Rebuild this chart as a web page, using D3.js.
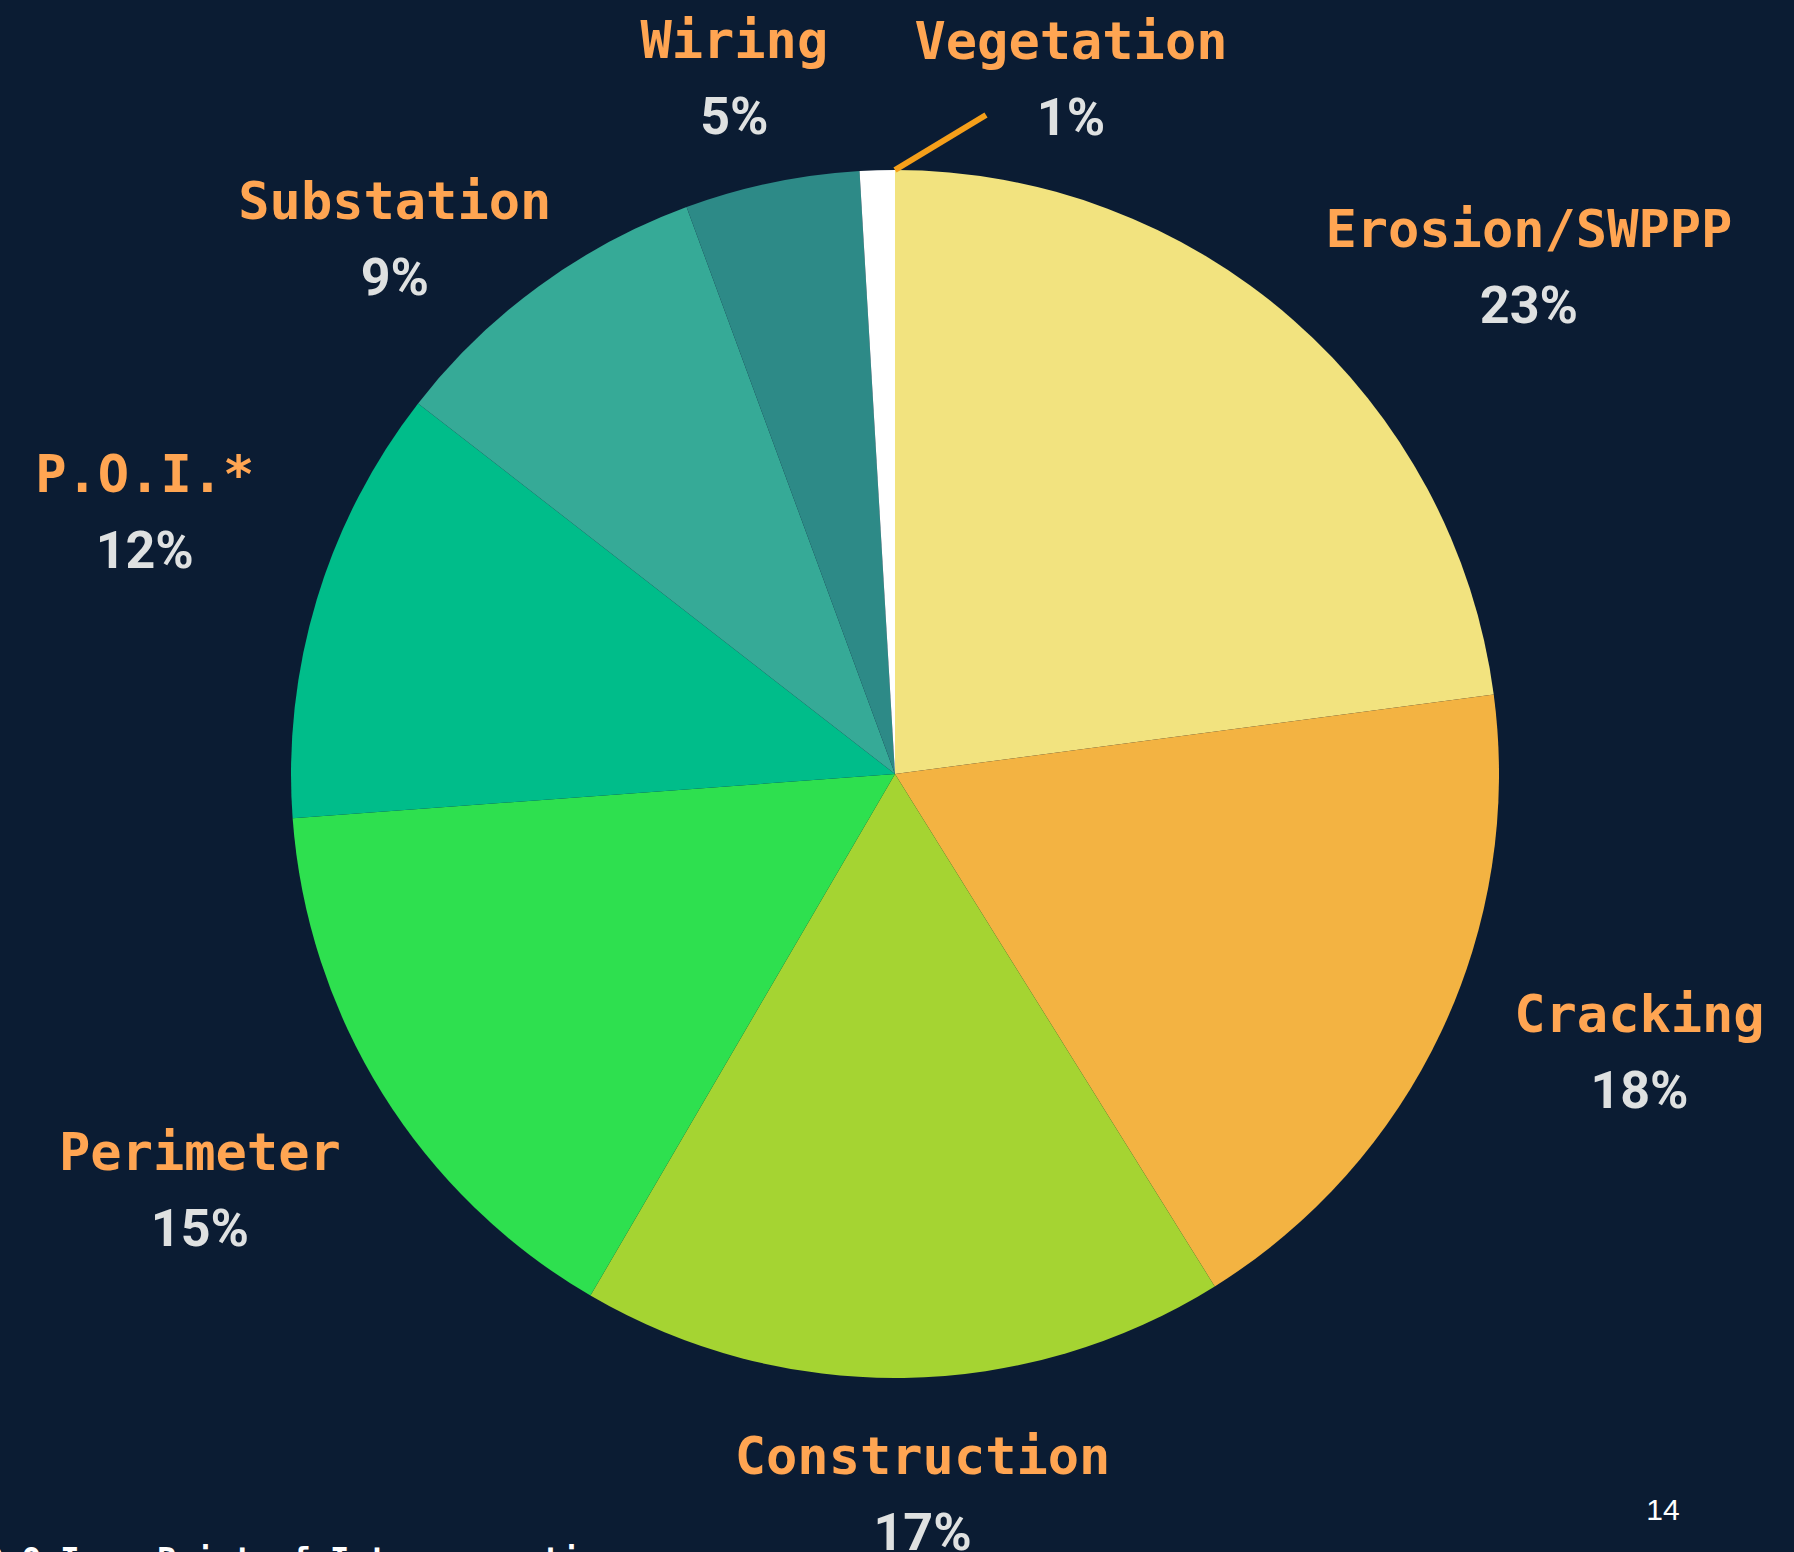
<!DOCTYPE html>
<html>
<head>
<meta charset="utf-8">
<script src="https://cdn.jsdelivr.net/npm/d3@7"></script>
<style>
  html, body { margin: 0; padding: 0; background: #0b1c33; overflow: hidden; }
  .name { font-family: "DejaVu Sans Mono", monospace; font-weight: bold; fill: #ffa552; }
  .pct { font-family: Roboto, "Noto Sans", sans-serif; font-weight: bold; fill: #dfe1e1; }
</style>
</head>
<body>
<div id="chart-container"></div>
<script>
// issue categories, clockwise from 12 o'clock
const categories = ["Erosion/SWPPP", "Cracking", "Construction", "Perimeter", "P.O.I.*", "Substation", "Wiring", "Vegetation"];
// issue counts
const counts = [49, 39, 37, 33, 25, 19, 10, 2];
const colors = ["#f2e37f", "#f3b342", "#a5d432", "#2ee04f", "#00bd8a", "#36aa97", "#2d8a87", "#ffffff"];

const svgWidth = 1794;
const svgHeight = 1552;
const cx = 895, cy = 774;
const radius = 604;
const pad = 65;          // gap between pie and label box
const nameSize = 52, pctSize = 52;

// hand nudges for label layout, so they sit like the original slide
const labelShift = {
    "Erosion/SWPPP": [59, 38],
    "Cracking": [26, -33],
    "Construction": [15, -7],
    "Perimeter": [-8, 31],
    "P.O.I.*": [-5, -53],
    "Substation": [-13, 50],
    "Wiring": [-5, 14]
};

const svg = d3.select("#chart-container")
    .append("svg")
    .attr("width", svgWidth)
    .attr("height", svgHeight);

svg.append("rect")
    .attr("width", svgWidth)
    .attr("height", svgHeight)
    .attr("fill", "#0b1c33");

const data = categories.map((c, i) => ({ name: c, value: counts[i], color: colors[i] }));
const total = d3.sum(counts);

const pie = d3.pie().sort(null).value(d => d.value);
const arc = d3.arc().innerRadius(0).outerRadius(radius);
const arcs = pie(data);

const g = svg.append("g").attr("transform", `translate(${cx},${cy})`);

g.selectAll("path")
    .data(arcs)
    .join("path")
    .attr("d", arc)
    .attr("fill", d => d.data.color);

// labels: name on top, percentage below
const labels = g.selectAll("g.label")
    .data(arcs)
    .join("g")
    .attr("class", "label");

labels.append("text")
    .attr("class", "name")
    .attr("text-anchor", "middle")
    .attr("font-size", nameSize)
    .attr("y", -19)
    .text(d => d.data.name);

labels.append("text")
    .attr("class", "pct")
    .attr("text-anchor", "middle")
    .attr("font-size", pctSize)
    .attr("y", 57)
    .text(d => Math.round(d.data.value / total * 100) + "%");

labels.each(function (d) {
    const sel = d3.select(this);
    const small = d.data.value / total < 0.02;
    if (small) {
        // tiny slice: leader line up and to the right
        const a = d.endAngle;
        const x0 = Math.sin(a) * radius, y0 = -Math.cos(a) * radius;
        const x1 = x0 + 91, y1 = y0 - 55;
        g.insert("line", "g.label")
            .attr("x1", x0).attr("y1", y0)
            .attr("x2", x1).attr("y2", y1)
            .attr("stroke", "#f59f1a")
            .attr("stroke-width", 6);
        sel.attr("transform", `translate(${x1 + 85},${y1 - 37})`);
        return;
    }
    const a = (d.startAngle + d.endAngle) / 2;
    const w = d3.max(sel.selectAll("text").nodes(), n => n.getComputedTextLength());
    const h = 114;
    const px = Math.sin(a) * (radius + pad), py = -Math.cos(a) * (radius + pad);
    const shift = labelShift[d.data.name] || [0, 0];
    const lx = px + Math.sin(a) * w / 2 + shift[0];
    const ly = py - Math.cos(a) * h / 2 + shift[1];
    sel.attr("transform", `translate(${lx},${ly})`);
});

// page number
svg.append("text")
    .text("14")
    .attr("x", 1663)
    .attr("y", 1520)
    .attr("text-anchor", "middle")
    .attr("font-family", "Liberation Sans, Arial, sans-serif")
    .attr("font-size", 30)
    .attr("fill", "#ffffff");

// footnote, mostly cut off by the bottom edge
svg.append("text")
    .text("*P.O.I. = Point of Interconnection")
    .attr("x", -36)
    .attr("y", 1570)
    .attr("font-family", "DejaVu Sans Mono, monospace")
    .attr("font-weight", "bold")
    .attr("font-size", 32)
    .attr("fill", "#ffffff");
</script>
</body>
</html>
